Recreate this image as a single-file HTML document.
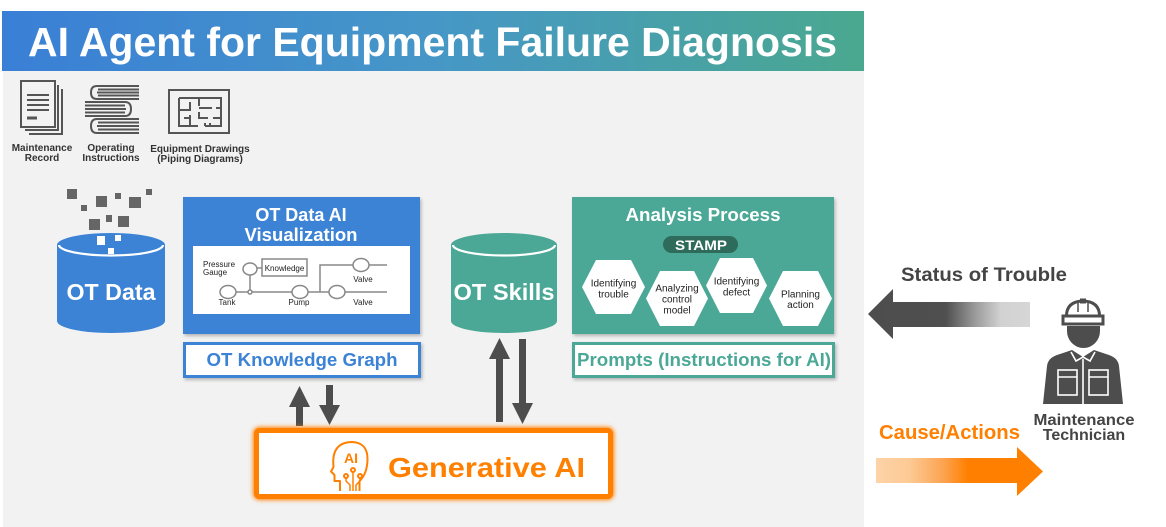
<!DOCTYPE html>
<html>
<head>
<meta charset="utf-8">
<style>
  html, body { margin:0; padding:0; background:#ffffff; }
  body { width:1166px; height:527px; overflow:hidden; position:relative; }
  svg { position:absolute; left:0; top:0; }
  text { font-family:"Liberation Sans", Arial, sans-serif; }
</style>
</head>
<body>
<svg width="1166" height="527" viewBox="0 0 1166 527" xmlns="http://www.w3.org/2000/svg">
  <defs>
    <linearGradient id="hdr" x1="0" y1="0" x2="1" y2="0">
      <stop offset="0" stop-color="#3a7fd6"/>
      <stop offset="0.5" stop-color="#4697c7"/>
      <stop offset="1" stop-color="#4aa88f"/>
    </linearGradient>
    <linearGradient id="gStatus" gradientUnits="userSpaceOnUse" x1="868" y1="0" x2="1030" y2="0">
      <stop offset="0" stop-color="#4d4d4d"/>
      <stop offset="0.48" stop-color="#4f4f4f"/>
      <stop offset="0.66" stop-color="#9a9a9a"/>
      <stop offset="0.82" stop-color="#d2d2d2"/>
      <stop offset="1" stop-color="#d6d6d6"/>
    </linearGradient>
    <linearGradient id="gCause" gradientUnits="userSpaceOnUse" x1="876" y1="0" x2="1043" y2="0">
      <stop offset="0" stop-color="#fdd3a8"/>
      <stop offset="0.2" stop-color="#fdca94"/>
      <stop offset="0.4" stop-color="#fca452"/>
      <stop offset="0.55" stop-color="#ff8000"/>
      <stop offset="1" stop-color="#ff8000"/>
    </linearGradient>
    <filter id="glow" x="-10%" y="-30%" width="120%" height="160%">
      <feGaussianBlur stdDeviation="2.2"/>
    </filter>
    <filter id="sh" x="-5%" y="-10%" width="115%" height="130%">
      <feDropShadow dx="1.5" dy="2" stdDeviation="1.5" flood-color="#000" flood-opacity="0.25"/>
    </filter>
  </defs>

  <!-- header -->
  <rect x="2" y="11" width="862" height="60" fill="url(#hdr)"/>
  <text x="28" y="56" font-size="41" font-weight="bold" fill="#ffffff" textLength="809" lengthAdjust="spacingAndGlyphs">AI Agent for Equipment Failure Diagnosis</text>

  <!-- gray background -->
  <rect x="3" y="71" width="861" height="456" fill="#f2f2f2"/>

  <!-- top icons: maintenance record -->
  <g stroke="#555" stroke-width="2" fill="none">
    <path d="M58,85 V130 H25"/>
    <path d="M62,89 V134 H29"/>
    <rect x="21" y="81" width="34" height="46" fill="#f2f2f2"/>
    <line x1="27" y1="95" x2="49" y2="95"/>
    <line x1="27" y1="100" x2="49" y2="100"/>
    <line x1="27" y1="105" x2="49" y2="105"/>
    <line x1="27" y1="110" x2="49" y2="110"/>
    <line x1="27" y1="118" x2="37" y2="118" stroke-width="3"/>
  </g>
  <!-- operating instructions: books -->
  <g stroke="#555" stroke-width="2" fill="none">
    <path d="M139,86 H97 Q91,86 91,92.5 Q91,99 97,99 H139"/>
    <line x1="98" y1="89.5" x2="139" y2="89.5"/>
    <line x1="97" y1="92.5" x2="139" y2="92.5"/>
    <line x1="98" y1="95.5" x2="139" y2="95.5"/>
    <path d="M85,102 H125 Q131,102 131,109 Q131,116 125,116 H85"/>
    <line x1="85" y1="105.5" x2="125" y2="105.5"/>
    <line x1="85" y1="109" x2="126" y2="109"/>
    <line x1="85" y1="112.5" x2="125" y2="112.5"/>
    <path d="M139,119 H97 Q91,119 91,126 Q91,133 97,133 H139"/>
    <line x1="98" y1="122.5" x2="139" y2="122.5"/>
    <line x1="97" y1="126" x2="139" y2="126"/>
    <line x1="98" y1="129.5" x2="139" y2="129.5"/>
  </g>
  <!-- equipment drawing -->
  <g stroke="#555" stroke-width="2" fill="none">
    <rect x="169" y="90" width="60" height="43"/>
    <path d="M179,98 H221 V126 H205"/>
    <path d="M179,98 V126 H198"/>
    <path d="M179,110 H190 V102"/>
    <path d="M190,115 V126"/>
    <path d="M199,98 V106 M199,112 V118 H208 M213,118 H221 M199,108 H212 M216,108 H221"/>
    <path d="M184,118 H190"/>
    <path d="M205,126 V123 M210,126 V123"/>
  </g>
  <g font-size="10" font-weight="bold" fill="#333" text-anchor="middle">
    <text x="42" y="151">Maintenance</text>
    <text x="42" y="161">Record</text>
    <text x="111" y="151">Operating</text>
    <text x="111" y="161">Instructions</text>
    <text x="200" y="152">Equipment Drawings</text>
    <text x="200" y="162">(Piping Diagrams)</text>
  </g>

  <!-- OT Data cylinder -->
  <g fill="#666">
    <rect x="67" y="189" width="10" height="10"/>
    <rect x="81" y="205" width="6" height="6"/>
    <rect x="96" y="196" width="11" height="11"/>
    <rect x="115" y="193" width="6" height="6"/>
    <rect x="129" y="197" width="12" height="11"/>
    <rect x="146" y="189" width="6" height="6"/>
    <rect x="89" y="219" width="11" height="11"/>
    <rect x="106" y="215" width="6" height="7"/>
    <rect x="118" y="216" width="11" height="11"/>
  </g>
  <path d="M57,245 V321 A54,12 0 0 0 165,321 V245 Z" fill="#3c83d5"/>
  <ellipse cx="111" cy="245" rx="54" ry="12" fill="#3c83d5"/>
  <path d="M59,245 A52,10.5 0 0 0 163,245" fill="none" stroke="#ffffff" stroke-width="2.2"/>
  <g fill="#ffffff">
    <rect x="97" y="236" width="8" height="9"/>
    <rect x="115" y="235" width="6" height="6"/>
    <rect x="108" y="248" width="6" height="6"/>
  </g>
  <text x="111" y="300" font-size="23" font-weight="bold" fill="#ffffff" text-anchor="middle" textLength="89" lengthAdjust="spacingAndGlyphs">OT Data</text>

  <!-- OT Data AI Visualization box -->
  <rect x="183" y="197" width="237" height="137" fill="#3c83d5" filter="url(#sh)"/>
  <text x="301" y="221" font-size="18" font-weight="bold" fill="#ffffff" text-anchor="middle">OT Data AI</text>
  <text x="301" y="241" font-size="18" font-weight="bold" fill="#ffffff" text-anchor="middle" textLength="113" lengthAdjust="spacingAndGlyphs">Visualization</text>
  <rect x="193" y="246" width="217" height="68" fill="#ffffff"/>
  <g stroke="#888" stroke-width="1.5" fill="none">
    <line x1="236" y1="292" x2="292" y2="292"/>
    <line x1="308" y1="292" x2="329" y2="292"/>
    <line x1="345" y1="292" x2="387" y2="292"/>
    <polyline points="320,292 320,265 353,265"/>
    <line x1="369" y1="265" x2="387" y2="265"/>
    <line x1="250" y1="275" x2="250" y2="292"/>
    <line x1="256" y1="268" x2="262" y2="268"/>
    <ellipse cx="250" cy="269" rx="7" ry="6" fill="#fff"/>
    <ellipse cx="228" cy="292" rx="8" ry="6.5" fill="#fff"/>
    <ellipse cx="300" cy="292" rx="8" ry="6.5" fill="#fff"/>
    <ellipse cx="337" cy="292" rx="8" ry="6.5" fill="#fff"/>
    <ellipse cx="361" cy="265" rx="8" ry="6.5" fill="#fff"/>
    <circle cx="250" cy="292" r="2" fill="#fff"/>
    <rect x="262" y="259" width="45" height="17" fill="#fff"/>
  </g>
  <g font-size="8" fill="#222">
    <text x="203" y="267">Pressure</text>
    <text x="203" y="275">Gauge</text>
    <text x="284.5" y="271" text-anchor="middle" font-size="8">Knowledge</text>
    <text x="227" y="305" text-anchor="middle">Tank</text>
    <text x="299" y="305" text-anchor="middle">Pump</text>
    <text x="363" y="282" text-anchor="middle">Valve</text>
    <text x="363" y="305" text-anchor="middle">Valve</text>
  </g>

  <!-- OT Knowledge Graph label -->
  <rect x="184.5" y="343.5" width="235" height="33" fill="#ffffff" stroke="#3c83d5" stroke-width="3" filter="url(#sh)"/>
  <text x="302" y="366" font-size="18.5" font-weight="bold" fill="#3c83d5" text-anchor="middle" textLength="191" lengthAdjust="spacingAndGlyphs">OT Knowledge Graph</text>

  <!-- OT Skills cylinder -->
  <path d="M451,245 V321 A53,12 0 0 0 557,321 V245 Z" fill="#4ba896"/>
  <ellipse cx="504" cy="245" rx="53" ry="12" fill="#4ba896"/>
  <path d="M453,245 A51,10.5 0 0 0 555,245" fill="none" stroke="#ffffff" stroke-width="2.2"/>
  <text x="504" y="300" font-size="23.5" font-weight="bold" fill="#ffffff" text-anchor="middle" textLength="101" lengthAdjust="spacingAndGlyphs">OT Skills</text>

  <!-- Analysis Process box -->
  <rect x="572" y="197" width="262" height="137" fill="#4ba896" filter="url(#sh)"/>
  <text x="703" y="221" font-size="18.5" font-weight="bold" fill="#ffffff" text-anchor="middle" textLength="155" lengthAdjust="spacingAndGlyphs">Analysis Process</text>
  <rect x="663" y="236" width="75" height="17" rx="8.5" fill="#2f6b5b"/>
  <text x="701" y="250" font-size="14" font-weight="bold" fill="#ffffff" text-anchor="middle" textLength="52" lengthAdjust="spacingAndGlyphs">STAMP</text>
  <g fill="#ffffff">
    <polygon points="582,287 596,260 631,260 645,287 631,314 596,314"/>
    <polygon points="646,298.5 660,271 694,271 708,298.5 694,326 660,326"/>
    <polygon points="706,285.5 720,258 753,258 767,285.5 753,313 720,313"/>
    <polygon points="769,298.5 783,271 818,271 832,298.5 818,326 783,326"/>
  </g>
  <g font-size="10" fill="#222" text-anchor="middle">
    <text x="613.5" y="286.5">Identifying</text>
    <text x="613.5" y="297.5">trouble</text>
    <text x="677" y="291.5">Analyzing</text>
    <text x="677" y="302.5">control</text>
    <text x="677" y="313.5">model</text>
    <text x="736.5" y="284.5">Identifying</text>
    <text x="736.5" y="295.5">defect</text>
    <text x="800.5" y="297.5">Planning</text>
    <text x="800.5" y="308">action</text>
  </g>

  <!-- Prompts label -->
  <rect x="573.5" y="343.5" width="260" height="33" fill="#ffffff" stroke="#4ba896" stroke-width="3" filter="url(#sh)"/>
  <text x="704" y="366" font-size="18.5" font-weight="bold" fill="#4ba896" text-anchor="middle" textLength="254" lengthAdjust="spacingAndGlyphs">Prompts (Instructions for AI)</text>

  <!-- arrows: KG <-> Gen AI -->
  <g fill="#4d4d4d">
    <polygon points="296,426 296,407 289,407 299.5,386 310,407 303,407 303,426"/>
    <polygon points="326,385 333,385 333,405 340,405 329.5,425 319,405 326,405"/>
    <!-- Skills <-> Gen AI -->
    <polygon points="496,422 496,359 489,359 499.5,338 510,359 503,359 503,422"/>
    <polygon points="519,339 526,339 526,403 533,403 522.5,424 512,403 519,403"/>
  </g>

  <!-- Generative AI box -->
  <rect x="256.5" y="430.5" width="354" height="66" rx="3" fill="none" stroke="#ff8000" stroke-width="7" filter="url(#glow)"/>
  <rect x="256.5" y="430.5" width="354" height="66" rx="3" fill="#ffffff" stroke="#ff8000" stroke-width="5"/>
  <!-- AI head icon -->
  <g stroke="#ff8000" stroke-width="2" fill="none" stroke-linejoin="round">
    <path d="M340,491 V481 H334.5 V475 L331,471.5 L333.5,467 Q331,443 351,442 Q368,442 367.5,460 Q367,474 359.5,481 V491"/>
    <circle cx="353" cy="470" r="2"/>
    <circle cx="346" cy="476" r="2"/>
    <circle cx="360" cy="476" r="2"/>
    <path d="M353,472 V491 M346,478 V481 L350,485 V491 M360,478 V481 L356,485 V491" stroke-width="1.5"/>
  </g>
  <text x="351" y="463" font-size="14" font-weight="bold" fill="#ff8000" text-anchor="middle">AI</text>
  <text x="388" y="477" font-size="28" font-weight="bold" fill="#ff8000" textLength="197" lengthAdjust="spacingAndGlyphs">Generative AI</text>

  <!-- Status of Trouble -->
  <text x="901" y="281" font-size="19.5" font-weight="bold" fill="#444" textLength="166" lengthAdjust="spacingAndGlyphs">Status of Trouble</text>
  <polygon points="868,314 893,289 893,302 1030,302 1030,327 893,327 893,339" fill="url(#gStatus)"/>

  <!-- Cause/Actions -->
  <text x="879" y="439" font-size="20" font-weight="bold" fill="#ff8000" textLength="141" lengthAdjust="spacingAndGlyphs">Cause/Actions</text>
  <polygon points="876,458 1017,458 1017,447 1043,471.5 1017,496 1017,483 876,483" fill="url(#gCause)"/>

  <!-- Technician -->
  <g>
    <path d="M1066.5,316 Q1066.5,301.5 1083,301 Q1099.5,301.5 1099.5,316 Z" fill="#ffffff" stroke="#4d4d4d" stroke-width="3"/>
    <rect x="1080" y="298.5" width="6" height="5" fill="#4d4d4d"/>
    <path d="M1078,303 V312 M1088,303 V312" stroke="#4d4d4d" stroke-width="1.5"/>
    <rect x="1063" y="316" width="40" height="8" fill="#ffffff" stroke="#4d4d4d" stroke-width="3"/>
    <path d="M1067,326 H1100 V331 A16.5,17 0 0 1 1067,331 Z" fill="#4d4d4d"/>
    <path d="M1043,404 L1047,366 Q1048,358 1057,355 L1072,350 L1083,357 L1094,350 L1109,355 Q1118,358 1119,366 L1123,404 Z" fill="#4d4d4d"/>
    <g stroke="#ffffff" stroke-width="1.6" fill="none">
      <polyline points="1071,352 1076,361 1083,357 1090,361 1095,352"/>
      <line x1="1083" y1="359" x2="1083" y2="404"/>
      <rect x="1058" y="370" width="19" height="25"/>
      <line x1="1058" y1="377" x2="1077" y2="377"/>
      <rect x="1089" y="370" width="19" height="25"/>
      <line x1="1089" y1="377" x2="1108" y2="377"/>
    </g>
  </g>
  <text x="1084" y="425" font-size="16" font-weight="bold" fill="#444" text-anchor="middle" textLength="101" lengthAdjust="spacingAndGlyphs">Maintenance</text>
  <text x="1084" y="440" font-size="16" font-weight="bold" fill="#444" text-anchor="middle">Technician</text>
</svg>
</body>
</html>
